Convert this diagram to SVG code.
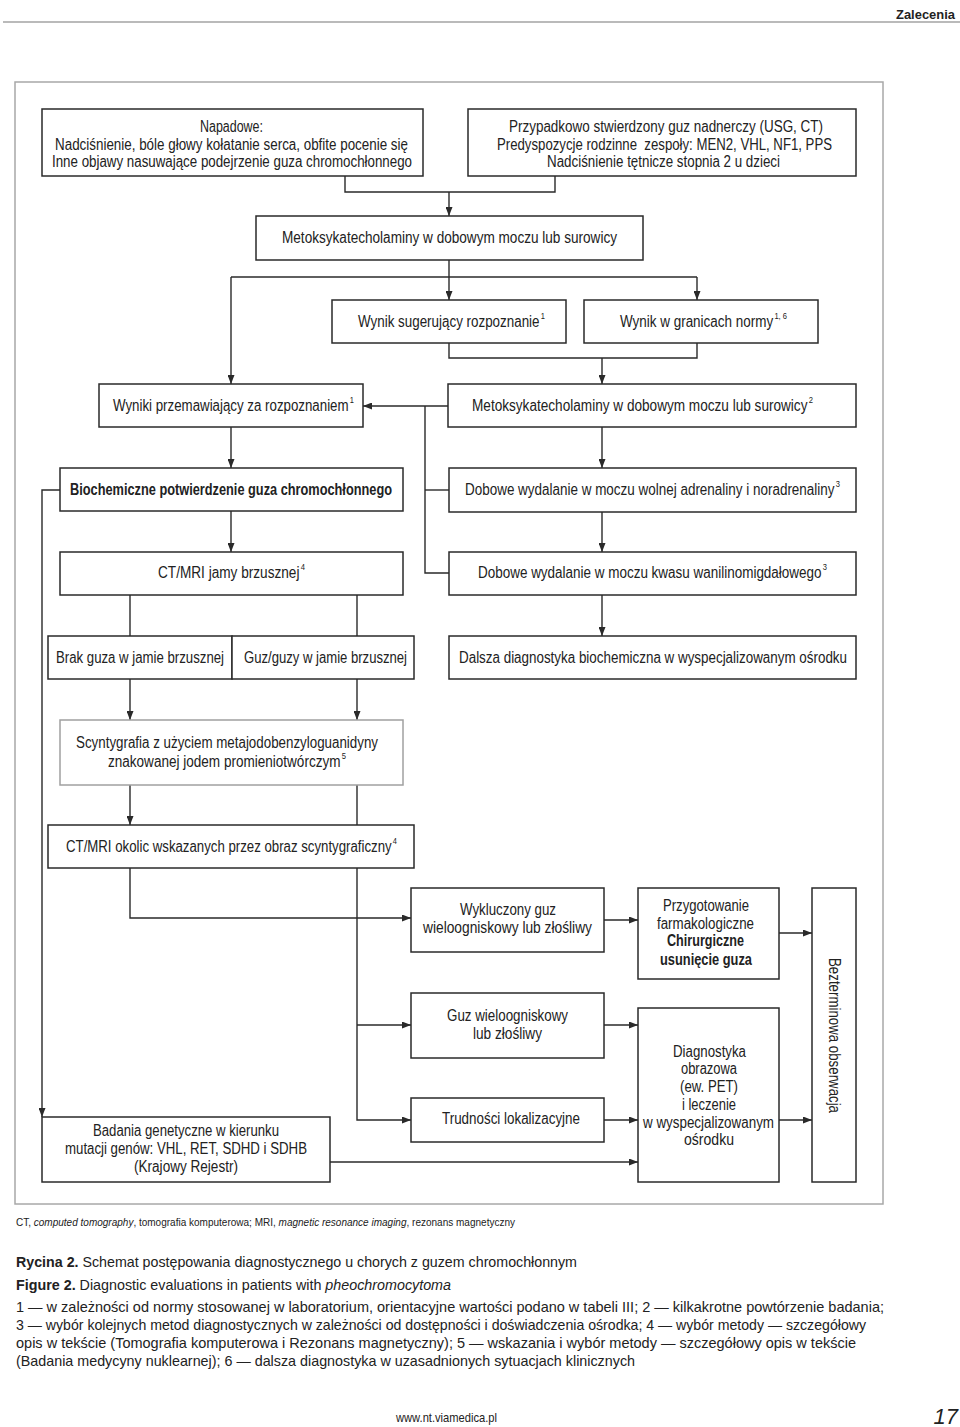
<svg xmlns="http://www.w3.org/2000/svg" width="960" height="1427" viewBox="0 0 960 1427">
<style>
text{font-family:"Liberation Sans Narrow","Liberation Sans",Arial,sans-serif;fill:#222}
.t{font-size:16px}
.b{font-weight:bold}
.box{fill:#fff;stroke:#2a2a2a;stroke-width:1.5}
.lbox{fill:#fff;stroke:#a0a0a0;stroke-width:1.5}
.c path{fill:none;stroke:#2a2a2a;stroke-width:1.4}
.f{font-size:15px}
</style>
<defs>
<marker id="ah" markerUnits="userSpaceOnUse" markerWidth="9" markerHeight="7" refX="9" refY="3.5" orient="auto">
<path d="M0,0 L9,3.5 L0,7 z" fill="#2a2a2a"/>
</marker>
</defs>
<rect width="960" height="1427" fill="#fff"/>
<g id="header">
<text class="b" x="896" y="19" font-size="13" textLength="59" lengthAdjust="spacingAndGlyphs">Zalecenia</text>
<line x1="3" y1="22" x2="960" y2="22" stroke="#777" stroke-width="1.2"/>
</g>
<rect id="frame" x="15" y="82" width="868" height="1122" fill="none" stroke="#a8a8a8" stroke-width="1.5"/>

<g class="c" id="connectors">
<path d="M345,176 V192 H555 V176"/>
<path d="M449,192 V216" marker-end="url(#ah)"/>
<path d="M449,260 V300" marker-end="url(#ah)"/>
<path d="M231,277 H697"/>
<path d="M231,277 V384" marker-end="url(#ah)"/>
<path d="M697,277 V300" marker-end="url(#ah)"/>
<path d="M449,343 V358 H697 V343"/>
<path d="M602,358 V384" marker-end="url(#ah)"/>
<path d="M448,406 H363" marker-end="url(#ah)"/>
<path d="M425,406 V573 H449"/>
<path d="M425,490 H449"/>
<path d="M231,427 V468" marker-end="url(#ah)"/>
<path d="M602,427 V468" marker-end="url(#ah)"/>
<path d="M602,512 V552" marker-end="url(#ah)"/>
<path d="M602,595 V636" marker-end="url(#ah)"/>
<path d="M231,511 V552" marker-end="url(#ah)"/>
<path d="M60,490 H42 V1117" marker-end="url(#ah)"/>
<path d="M130,595 V636"/>
<path d="M357,595 V636"/>
<path d="M130,679 V720" marker-end="url(#ah)"/>
<path d="M357,679 V720" marker-end="url(#ah)"/>
<path d="M130,785 V825" marker-end="url(#ah)"/>
<path d="M357,785 V825"/>
<path d="M130,868 V918 H411" marker-end="url(#ah)"/>
<path d="M357,868 V1120 H411" marker-end="url(#ah)"/>
<path d="M357,1025 H411" marker-end="url(#ah)"/>
<path d="M604,920 H638" marker-end="url(#ah)"/>
<path d="M604,1025 H638" marker-end="url(#ah)"/>
<path d="M604,1120 H638" marker-end="url(#ah)"/>
<path d="M779,933 H812" marker-end="url(#ah)"/>
<path d="M779,1120 H812" marker-end="url(#ah)"/>
<path d="M330,1162 H638" marker-end="url(#ah)"/>
</g>

<g id="n-napadowe">
<rect class="box" x="42" y="109" width="381" height="67"/>
<text class="t" x="200" y="132" textLength="63" lengthAdjust="spacingAndGlyphs">Napadowe:</text>
<text class="t" x="55" y="150" textLength="353" lengthAdjust="spacingAndGlyphs">Nadciśnienie, bóle głowy kołatanie serca, obfite pocenie się</text>
<text class="t" x="52" y="167" textLength="360" lengthAdjust="spacingAndGlyphs">Inne objawy nasuwające podejrzenie guza chromochłonnego</text>
</g>
<g id="n-przypadkowo">
<rect class="box" x="468" y="109" width="388" height="67"/>
<text class="t" x="509" y="132" textLength="314" lengthAdjust="spacingAndGlyphs">Przypadkowo stwierdzony guz nadnerczy (USG, CT)</text>
<text class="t" x="497" y="150" textLength="335" lengthAdjust="spacingAndGlyphs" style="white-space:pre">Predyspozycje rodzinne  zespoły: MEN2, VHL, NF1, PPS</text>
<text class="t" x="547" y="167" textLength="233" lengthAdjust="spacingAndGlyphs">Nadciśnienie tętnicze stopnia 2 u dzieci</text>
</g>
<g id="n-metoks1">
<rect class="box" x="256" y="216" width="387" height="44"/>
<text class="t" x="282" y="243" textLength="335" lengthAdjust="spacingAndGlyphs">Metoksykatecholaminy w dobowym moczu lub surowicy</text>
</g>
<g id="n-sugerujacy">
<rect class="box" x="332" y="300" width="234" height="43"/>
<text class="t" x="358" y="327" textLength="187" lengthAdjust="spacingAndGlyphs">Wynik sugerujący rozpoznanie<tspan font-size="9" dx="1.5" dy="-8">1</tspan></text>
</g>
<g id="n-norma">
<rect class="box" x="584" y="300" width="234" height="43"/>
<text class="t" x="620" y="327" textLength="167" lengthAdjust="spacingAndGlyphs">Wynik w granicach normy<tspan font-size="9" dx="1.5" dy="-8">1, 6</tspan></text>
</g>
<g id="n-przemawiajacy">
<rect class="box" x="99" y="384" width="264" height="43"/>
<text class="t" x="113" y="411" textLength="241" lengthAdjust="spacingAndGlyphs">Wyniki przemawiający za rozpoznaniem<tspan font-size="9" dx="1.5" dy="-8">1</tspan></text>
</g>
<g id="n-metoks2">
<rect class="box" x="448" y="384" width="408" height="43"/>
<text class="t" x="472" y="411" textLength="341" lengthAdjust="spacingAndGlyphs">Metoksykatecholaminy w dobowym moczu lub surowicy<tspan font-size="9" dx="1.5" dy="-8">2</tspan></text>
</g>
<g id="n-biochem">
<rect class="box" x="60" y="468" width="343" height="43"/>
<text class="t b" x="70" y="495" textLength="322" lengthAdjust="spacingAndGlyphs">Biochemiczne potwierdzenie guza chromochłonnego</text>
</g>
<g id="n-adrenaliny">
<rect class="box" x="449" y="468" width="407" height="44"/>
<text class="t" x="465" y="495" textLength="375" lengthAdjust="spacingAndGlyphs">Dobowe wydalanie w moczu wolnej adrenaliny i noradrenaliny<tspan font-size="9" dx="1.5" dy="-8">3</tspan></text>
</g>
<g id="n-ctjamy">
<rect class="box" x="60" y="552" width="343" height="43"/>
<text class="t" x="158" y="578" textLength="147" lengthAdjust="spacingAndGlyphs">CT/MRI jamy brzusznej<tspan font-size="9" dx="1.5" dy="-8">4</tspan></text>
</g>
<g id="n-wanilino">
<rect class="box" x="449" y="552" width="407" height="43"/>
<text class="t" x="478" y="578" textLength="349" lengthAdjust="spacingAndGlyphs">Dobowe wydalanie w moczu kwasu wanilinomigdałowego<tspan font-size="9" dx="1.5" dy="-8">3</tspan></text>
</g>
<g id="n-brak">
<rect class="box" x="48" y="636" width="184" height="43"/>
<text class="t" x="56" y="663" textLength="168" lengthAdjust="spacingAndGlyphs">Brak guza w jamie brzusznej</text>
</g>
<g id="n-guzy">
<rect class="box" x="232" y="636" width="182" height="43"/>
<text class="t" x="244" y="663" textLength="163" lengthAdjust="spacingAndGlyphs">Guz/guzy w jamie brzusznej</text>
</g>
<g id="n-dalsza">
<rect class="box" x="449" y="636" width="407" height="43"/>
<text class="t" x="459" y="663" textLength="388" lengthAdjust="spacingAndGlyphs">Dalsza diagnostyka biochemiczna w wyspecjalizowanym ośrodku</text>
</g>
<g id="n-scyntygrafia">
<rect class="lbox" x="60" y="720" width="343" height="65"/>
<text class="t" x="76" y="748" textLength="302" lengthAdjust="spacingAndGlyphs">Scyntygrafia z użyciem metajodobenzyloguanidyny</text>
<text class="t" x="108" y="767" textLength="238" lengthAdjust="spacingAndGlyphs">znakowanej jodem promieniotwórczym<tspan font-size="9" dx="1.5" dy="-8">5</tspan></text>
</g>
<g id="n-ctokolic">
<rect class="box" x="48" y="825" width="366" height="43"/>
<text class="t" x="66" y="852" textLength="331" lengthAdjust="spacingAndGlyphs">CT/MRI okolic wskazanych przez obraz scyntygraficzny<tspan font-size="9" dx="1.5" dy="-8">4</tspan></text>
</g>
<g id="n-wykluczony">
<rect class="box" x="411" y="888" width="193" height="64"/>
<text class="t" x="460" y="915" textLength="96" lengthAdjust="spacingAndGlyphs">Wykluczony guz</text>
<text class="t" x="423" y="933" textLength="169" lengthAdjust="spacingAndGlyphs">wieloogniskowy lub złośliwy</text>
</g>
<g id="n-przygotowanie">
<rect class="box" x="638" y="888" width="141" height="91"/>
<text class="t" x="663" y="911" textLength="86" lengthAdjust="spacingAndGlyphs">Przygotowanie</text>
<text class="t" x="657" y="929" textLength="97" lengthAdjust="spacingAndGlyphs">farmakologiczne</text>
<text class="t b" x="667" y="946" textLength="77" lengthAdjust="spacingAndGlyphs">Chirurgiczne</text>
<text class="t b" x="660" y="965" textLength="92" lengthAdjust="spacingAndGlyphs">usunięcie guza</text>
</g>
<g id="n-guzwielo">
<rect class="box" x="411" y="993" width="193" height="65"/>
<text class="t" x="447" y="1021" textLength="121" lengthAdjust="spacingAndGlyphs">Guz wieloogniskowy</text>
<text class="t" x="473" y="1039" textLength="69" lengthAdjust="spacingAndGlyphs">lub złośliwy</text>
</g>
<g id="n-trudnosci">
<rect class="box" x="411" y="1098" width="193" height="44"/>
<text class="t" x="442" y="1124" textLength="138" lengthAdjust="spacingAndGlyphs">Trudności lokalizacyjne</text>
</g>
<g id="n-diagnostyka">
<rect class="box" x="638" y="1008" width="141" height="174"/>
<text class="t" x="673" y="1057" textLength="73" lengthAdjust="spacingAndGlyphs">Diagnostyka</text>
<text class="t" x="681" y="1074" textLength="56" lengthAdjust="spacingAndGlyphs">obrazowa</text>
<text class="t" x="680" y="1092" textLength="58" lengthAdjust="spacingAndGlyphs">(ew. PET)</text>
<text class="t" x="682" y="1110" textLength="54" lengthAdjust="spacingAndGlyphs">i leczenie</text>
<text class="t" x="643" y="1128" textLength="131" lengthAdjust="spacingAndGlyphs">w wyspecjalizowanym</text>
<text class="t" x="684" y="1145" textLength="50" lengthAdjust="spacingAndGlyphs">ośrodku</text>
</g>
<g id="n-bezterminowa">
<rect class="box" x="812" y="888" width="44" height="294"/>
<text class="t" transform="translate(829,958) rotate(90)" x="0" y="0" textLength="155" lengthAdjust="spacingAndGlyphs">Bezterminowa obserwacja</text>
</g>
<g id="n-badania">
<rect class="box" x="42" y="1117" width="288" height="65"/>
<text class="t" x="93" y="1136" textLength="186" lengthAdjust="spacingAndGlyphs">Badania genetyczne w kierunku</text>
<text class="t" x="65" y="1154" textLength="242" lengthAdjust="spacingAndGlyphs">mutacji genów: VHL, RET, SDHD i SDHB</text>
<text class="t" x="134" y="1172" textLength="104" lengthAdjust="spacingAndGlyphs">(Krajowy Rejestr)</text>
</g>

<g id="footer">
<text x="16" y="1226" font-size="11" textLength="499" lengthAdjust="spacingAndGlyphs">CT, <tspan font-style="italic">computed tomography</tspan>, tomografia komputerowa; MRI, <tspan font-style="italic">magnetic resonance imaging</tspan>, rezonans magnetyczny</text>
<text class="f" x="16" y="1267" textLength="561" lengthAdjust="spacingAndGlyphs"><tspan font-weight="bold">Rycina 2.</tspan> Schemat postępowania diagnostycznego u chorych z guzem chromochłonnym</text>
<text class="f" x="16" y="1290" textLength="435" lengthAdjust="spacingAndGlyphs"><tspan font-weight="bold">Figure 2.</tspan> Diagnostic evaluations in patients with <tspan font-style="italic">pheochromocytoma</tspan></text>
<text class="f" x="16" y="1312" textLength="868" lengthAdjust="spacingAndGlyphs">1 — w zależności od normy stosowanej w laboratorium, orientacyjne wartości podano w tabeli III; 2 — kilkakrotne powtórzenie badania;</text>
<text class="f" x="16" y="1330" textLength="850" lengthAdjust="spacingAndGlyphs">3 — wybór kolejnych metod diagnostycznych w zależności od dostępności i doświadczenia ośrodka; 4 — wybór metody — szczegółowy</text>
<text class="f" x="16" y="1348" textLength="840" lengthAdjust="spacingAndGlyphs">opis w tekście (Tomografia komputerowa i Rezonans magnetyczny); 5 — wskazania i wybór metody — szczegółowy opis w tekście</text>
<text class="f" x="16" y="1366" textLength="619" lengthAdjust="spacingAndGlyphs">(Badania medycyny nuklearnej); 6 — dalsza diagnostyka w uzasadnionych sytuacjach klinicznych</text>
<text x="396" y="1422" font-size="13" textLength="101" lengthAdjust="spacingAndGlyphs">www.nt.viamedica.pl</text>
<text x="958" y="1424" font-size="22" font-style="italic" text-anchor="end">17</text>
</g>
</svg>
